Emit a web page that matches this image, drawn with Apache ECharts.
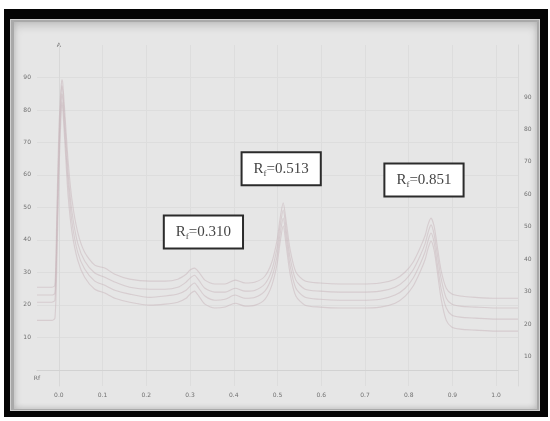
<!DOCTYPE html>
<html>
<head>
<meta charset="utf-8">
<script src="https://cdn.jsdelivr.net/npm/echarts@6/dist/echarts.min.js"></script>
<style>
  html, body { margin: 0; padding: 0; background: #ffffff; width: 550px; height: 421px; overflow: hidden; }
  #outer { position: absolute; left: 4px; top: 9px; width: 544px; height: 408px; background: #050505; }
  #bevel { position: absolute; left: 10px; top: 19px; width: 528px; height: 390px;
           background: #a9a9a9; border: 1px solid #d0d0d0; }
  #panel { position: absolute; left: 14px; top: 22px; width: 523px; height: 387px;
           background: #e6e6e6; box-shadow: inset 0 4px 9px rgba(0,0,0,0.16), inset 0 -2px 5px rgba(0,0,0,0.10); }
  #chart { position: absolute; left: 0; top: 0; width: 550px; height: 421px; }
</style>
</head>
<body>
<div id="outer"></div>
<div id="bevel"></div>
<div id="panel"></div>
<div id="chart"></div>
<script>
// Densitometric scans of four tracks: Rf position vs. detector response
const rf = [-0.050, -0.032, -0.016, -0.009, -0.005, 0.000, 0.005, 0.007, 0.009, 0.014,
            0.021, 0.030, 0.043, 0.059, 0.082, 0.105, 0.128, 0.162, 0.208, 0.243,
            0.272, 0.291, 0.300, 0.310, 0.320, 0.334, 0.357, 0.380, 0.403, 0.426,
            0.449, 0.471, 0.487, 0.499, 0.506, 0.513, 0.520, 0.529, 0.542, 0.563,
            0.597, 0.643, 0.689, 0.735, 0.769, 0.792, 0.810, 0.826, 0.838, 0.844,
            0.851, 0.858, 0.865, 0.874, 0.886, 0.899, 0.918, 0.952, 0.998, 1.050];

const track1 = [25.4, 25.4, 25.4, 26.0, 46.1, 73.9, 86.9, 89.3, 88.1, 78.5,
                64.6, 52.3, 42.4, 36.2, 32.2, 31.3, 29.4, 27.9, 27.3, 27.3,
                27.9, 29.4, 30.7, 31.3, 30.1, 27.6, 26.4, 26.4, 27.6, 26.7,
                27.0, 28.8, 33.1, 39.9, 46.7, 51.4, 45.5, 36.9, 30.1, 27.3,
                26.7, 26.4, 26.4, 26.7, 27.9, 30.1, 33.1, 37.5, 41.5, 44.6,
                46.7, 44.3, 38.4, 30.7, 25.1, 23.3, 22.7, 22.3, 22.0, 22.0];

const track2 = [23.0, 23.0, 23.0, 23.6, 41.5, 69.3, 84.7, 87.5, 85.6, 75.4,
                60.9, 48.6, 39.0, 33.5, 29.8, 28.5, 27.0, 25.4, 24.8, 24.8,
                25.4, 27.0, 28.2, 29.1, 27.6, 25.1, 23.9, 23.9, 25.1, 24.2,
                24.5, 26.4, 30.7, 37.5, 44.3, 49.2, 43.0, 34.4, 27.6, 24.8,
                24.2, 23.9, 23.9, 24.2, 25.4, 27.6, 30.7, 35.0, 39.0, 42.1,
                44.6, 41.8, 35.9, 28.2, 22.0, 20.2, 19.6, 19.3, 19.0, 19.0];

const track3 = [20.8, 20.8, 20.8, 21.4, 36.9, 64.6, 81.6, 85.0, 83.1, 72.3,
                57.8, 45.5, 36.2, 31.0, 27.3, 26.0, 24.5, 23.3, 22.3, 22.7,
                23.3, 24.5, 25.7, 26.7, 25.1, 22.7, 21.4, 21.7, 23.0, 22.0,
                22.3, 24.2, 28.5, 35.0, 41.8, 46.7, 40.6, 31.9, 25.1, 22.3,
                21.7, 21.4, 21.4, 21.7, 23.0, 25.1, 28.2, 32.5, 36.5, 39.6,
                42.1, 39.3, 33.1, 25.1, 19.0, 16.8, 16.2, 15.9, 15.6, 15.6];

const track4 = [15.2, 15.2, 15.2, 15.9, 30.7, 60.0, 78.5, 82.5, 80.1, 69.3,
                53.8, 42.4, 33.8, 28.5, 24.8, 23.6, 22.0, 20.8, 19.9, 20.2,
                20.8, 22.0, 23.3, 24.2, 22.7, 20.2, 19.0, 19.3, 20.5, 19.6,
                19.9, 21.7, 26.0, 32.5, 39.3, 44.3, 38.1, 29.4, 22.7, 19.9,
                19.3, 19.0, 19.0, 19.3, 20.5, 22.7, 25.7, 30.1, 34.1, 37.2,
                39.6, 36.9, 30.7, 22.0, 15.2, 13.1, 12.5, 12.2, 11.9, 11.9];

// Spots identified on the plate
const spotRf = [0.310, 0.513, 0.851];
const spotLabelOffset = [[9, -36], [-2, -34], [-7, -38]];

// Axis tick values
const xTicks = [0, 0.1, 0.2, 0.3, 0.4, 0.5, 0.6, 0.7, 0.8, 0.9, 1.0];
const leftTicks = [10, 20, 30, 40, 50, 60, 70, 80, 90];
const rightTicks = [10, 20, 30, 40, 50, 60, 70, 80, 90];

const chart = echarts.init(document.getElementById('chart'), null, { renderer: 'canvas' });

const lineColor = 'rgba(200, 180, 185, 0.5)';
const tickLabelStyle = { fontSize: 6, color: '#707070', fontFamily: 'DejaVu Sans' };

const spotMarks = spotRf.map((r, k) => {
  const i = rf.indexOf(r);
  return {
    coord: [r, track1[i]],
    label: {
      formatter: '{a|R}{b|f}{c|=' + r.toFixed(3) + '}',
      offset: spotLabelOffset[k]
    }
  };
});

const traces = [track1, track2, track3, track4].map((t, n) => ({
  type: 'line',
  data: rf.map((x, i) => [x, t[i]]),
  showSymbol: false,
  symbol: 'none',
  smooth: 0.25,
  lineStyle: { color: lineColor, width: 1.1 },
  z: 3,
  markPoint: n === 0 ? {
    symbol: 'circle',
    symbolSize: 0,
    silent: true,
    label: {
      show: true,
      position: 'inside',
      backgroundColor: '#ffffff',
      borderColor: '#2b2b2b',
      borderWidth: 2,
      padding: [6, 11, 6, 11],
      rich: {
        a: { fontFamily: 'Liberation Serif', fontSize: 15, color: '#444444', lineHeight: 19, verticalAlign: 'middle' },
        b: { fontFamily: 'Liberation Serif', fontSize: 9, color: '#444444', lineHeight: 9, verticalAlign: 'bottom' },
        c: { fontFamily: 'Liberation Serif', fontSize: 15, color: '#444444', lineHeight: 19, verticalAlign: 'middle' }
      }
    },
    data: spotMarks
  } : undefined
}));

chart.setOption({
  animation: false,
  backgroundColor: 'transparent',
  grid: { left: 37, right: 32, top: 45, bottom: 35, outerBoundsMode: 'none', containLabel: false },
  xAxis: {
    type: 'value',
    min: -0.05,
    max: 1.05,
    name: 'Rf',
    nameLocation: 'start',
    nameGap: 0,
    nameTextStyle: { fontSize: 6, color: '#707070', fontFamily: 'DejaVu Sans', align: 'center', verticalAlign: 'top', padding: [6, 0, 0, 0] },
    axisLine: { show: true, lineStyle: { color: '#d2d2d2', width: 1 } },
    axisTick: { show: false, customValues: xTicks },
    axisLabel: { customValues: xTicks, margin: 6, formatter: v => v.toFixed(1), ...tickLabelStyle },
    splitLine: { show: true, lineStyle: { color: '#dddddd', width: 1 } }
  },
  yAxis: [
    {
      type: 'value',
      min: -5,
      max: 100,
      position: 'left',
      name: 'A',
      nameLocation: 'end',
      nameGap: 0,
      nameTextStyle: { fontSize: 6, color: '#707070', fontFamily: 'DejaVu Sans', align: 'center', verticalAlign: 'middle' },
      axisLine: { show: true, lineStyle: { color: '#d8d8d8', width: 1 } },
      axisTick: { show: false, customValues: leftTicks },
      axisLabel: { customValues: leftTicks, margin: 6, ...tickLabelStyle },
      splitLine: { show: true, lineStyle: { color: '#dddddd', width: 1 } }
    },
    {
      type: 'value',
      min: 1,
      max: 106,
      position: 'right',
      axisLine: { show: true, lineStyle: { color: '#d8d8d8', width: 1 } },
      axisTick: { show: false, customValues: rightTicks },
      axisLabel: { customValues: rightTicks, margin: 6, ...tickLabelStyle },
      splitLine: { show: false }
    }
  ],
  series: traces
});
</script>
</body>
</html>
